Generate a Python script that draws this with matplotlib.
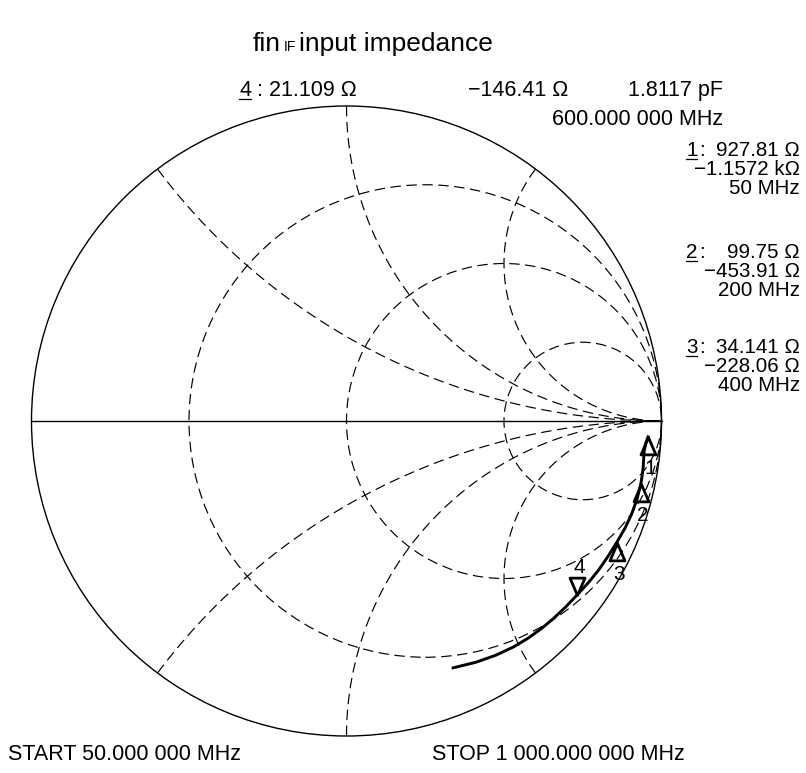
import matplotlib
matplotlib.use("Agg")
import matplotlib.pyplot as plt
import numpy as np
from matplotlib.lines import Line2D
from matplotlib.patches import Circle
from matplotlib.path import Path

plt.rcParams["font.family"] = ["Liberation Sans", "DejaVu Sans"]
plt.rcParams["lines.scale_dashes"] = False

# ── data ─────────────────────────────────────────────────────────────
Z0 = 50.0
trace_f = [50, 75, 100, 125, 150, 175, 200, 250, 300, 350, 400, 450, 500,
           550, 600, 650, 700, 750, 800, 850, 900, 950, 1000]   # MHz
trace_r = [927.81, 640, 420, 270, 180, 130, 99.75, 66, 48, 39.5, 34.141,
           29.5, 25.8, 23.2, 21.109, 19.0, 17.2, 15.8, 14.7, 13.9, 13.4, 13.1, 12.9]
trace_x = [-1157.2, -960, -800, -680, -585, -510, -453.91, -370, -305, -262,
           -228.06, -201, -180, -162, -146.41, -134, -123, -114, -105.5,
           -97.5, -89.5, -82, -74.5]

marker_no = [1, 2, 3, 4]
marker_r = [927.81, 99.75, 34.141, 21.109]
marker_x = [-1157.2, -453.91, -228.06, -146.41]
marker_f = [50, 200, 400, 600]
marker_up = [True, True, True, False]
marker4_cap = "1.8117 pF"
marker4_freq = "600.000 000 MHz"

grid_r = [1 / 3, 1, 3]
grid_x = [0.5, 1, 2]

title_main = "fin"
title_sub = "IF"
title_rest = "input impedance"
start_text = "START 50.000 000 MHz"
stop_text = "STOP 1 000.000 000 MHz"

# ── layout ───────────────────────────────────────────────────────────
W, H = 806, 773
CX, CY, RAD = 346.5, 421.0, 315.0
MINUS = "\u2212"


def fmt_ohm(v):
    s = MINUS if v < 0 else ""
    a = abs(v)
    if a >= 1000:
        return f"{s}{a / 1000:g} k\u03a9"
    return f"{s}{a:g} \u03a9"


def fy(y):
    return 1 - y / H


fig = plt.figure(figsize=(W / 100, H / 100), dpi=100)
ax = fig.add_axes([0, 0, 1, 1])
ax.set_xlim(-CX / RAD, (W - CX) / RAD)
ax.set_ylim(-(H - CY) / RAD, CY / RAD)
ax.axis("off")

DASH = (0, (7.5, 4))
ax.add_patch(Circle((0, 0), 1, fill=False, lw=1.0, ec="black"))
ax.plot([-1, 1], [0, 0], color="black", lw=1.0)
for r in grid_r:
    ax.add_patch(Circle((r / (1 + r), 0), 1 / (1 + r), fill=False,
                        lw=0.85, ls=DASH, ec="black"))
t = np.linspace(0, np.pi / 2 - 1e-4, 1500)
for x in grid_x:
    for s in (1, -1):
        z = np.tan(t) + 1j * s * x
        g = (z - 1) / (z + 1)
        ax.plot(g.real, g.imag, color="black", lw=0.85, ls=DASH)

# trace
zt = (np.array(trace_r) + 1j * np.array(trace_x)) / Z0
gt = (zt - 1) / (zt + 1)
ax.plot(gt.real, gt.imag, color="black", lw=2.1, solid_joinstyle="round")

# markers
tri_up = Path([(0, 0), (-0.43, -1), (0.43, -1), (0, 0)], closed=True)
tri_dn = Path([(0, 0), (-0.43, 1), (0.43, 1), (0, 0)], closed=True)
zm = (np.array(marker_r) + 1j * np.array(marker_x)) / Z0
gm = (zm - 1) / (zm + 1)
for n, g, up in zip(marker_no, gm, marker_up):
    ax.plot(g.real, g.imag, marker=tri_up if up else tri_dn, ms=25,
            mfc="none", mec="black", mew=2.0, zorder=4)
    ax.annotate(str(n), (g.real, g.imag), xytext=(2, -32 if up else 28),
                textcoords="offset pixels", ha="center", va="center",
                fontsize=15, zorder=5)

# ── texts ────────────────────────────────────────────────────────────
fig.canvas.draw()
rend = fig.canvas.get_renderer()


def underline(txt, y):
    bb = txt.get_window_extent(rend)
    fig.add_artist(Line2D([bb.x0 / W, bb.x1 / W], [fy(y + 3)] * 2,
                          transform=fig.transFigure, color="black", lw=0.9))


# title
TY = 51
tt = fig.text(253 / W, fy(TY), title_main, fontsize=19)
bb = tt.get_window_extent(rend)
ts = fig.text((bb.x1 + 3) / W, fy(TY), title_sub, fontsize=10)
bb = ts.get_window_extent(rend)
fig.text((bb.x1 + 3) / W, fy(TY), title_rest, fontsize=19)

# marker 4 readout at the top
FS_TOP = 15.5
n4 = fig.text(239 / W, fy(96), str(marker_no[3]), fontsize=FS_TOP)
underline(n4, 96)
bb = n4.get_window_extent(rend)
fig.text(bb.x1 / W, fy(96), " : " + fmt_ohm(marker_r[3]), fontsize=FS_TOP)
fig.text(468 / W, fy(96), fmt_ohm(marker_x[3]), fontsize=FS_TOP)
fig.text(723 / W, fy(96), marker4_cap, fontsize=FS_TOP, ha="right")
fig.text(723 / W, fy(125), marker4_freq, fontsize=FS_TOP, ha="right")

# markers 1..3 readout blocks
FS_BLK = 14.8
block_base = [156, 258, 353]
for i, yb in enumerate(block_base):
    nt = fig.text(686 / W, fy(yb), str(marker_no[i]), fontsize=FS_BLK)
    underline(nt, yb)
    fig.text(699 / W, fy(yb), ":", fontsize=FS_BLK)
    fig.text(800 / W, fy(yb), fmt_ohm(marker_r[i]), fontsize=FS_BLK, ha="right")
    fig.text(800 / W, fy(yb + 19), fmt_ohm(marker_x[i]), fontsize=FS_BLK, ha="right")
    fig.text(800 / W, fy(yb + 38), f"{marker_f[i]} MHz", fontsize=FS_BLK, ha="right")

fig.text(8 / W, fy(760), start_text, fontsize=15.5)
fig.text(432 / W, fy(760), stop_text, fontsize=15.5)

fig.savefig("out.png", dpi=100)
